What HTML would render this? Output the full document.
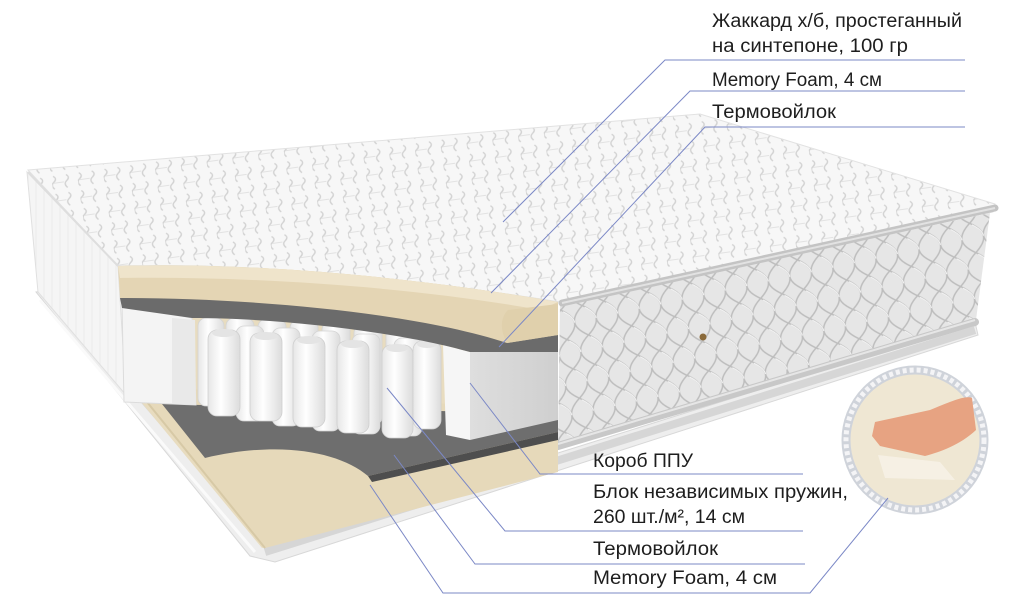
<!DOCTYPE html>
<html><head><meta charset="utf-8"><style>
html,body{margin:0;padding:0;background:#fff;width:1010px;height:615px;overflow:hidden}
svg{display:block}
text{font-family:"Liberation Sans",sans-serif;fill:#1e1e1e}
</style></head><body>
<svg width="1010" height="615" viewBox="0 0 1010 615" xmlns="http://www.w3.org/2000/svg">
<defs>
<pattern id="quilt" width="26" height="18" patternUnits="userSpaceOnUse" patternTransform="rotate(-8)">
<rect width="26" height="18" fill="#f7f7f7"/>
<path d="M2 2 q4 3 0 6 q-4 3 0 7 M15 2 q4 3 0 6 q-4 3 0 7" stroke="#d2d2d2" stroke-width="1.4" fill="none"/>
<path d="M2 9 h10" stroke="#e2e2e2" stroke-width="1" fill="none"/>
</pattern>
<pattern id="diam" width="22" height="30" patternUnits="userSpaceOnUse" patternTransform="rotate(-12)">
<rect width="22" height="30" fill="#e6e6e6"/>
<path d="M0 0 Q11 8 11 15 Q11 22 0 30 M22 0 Q11 8 11 15 Q11 22 22 30" stroke="#bdbdbd" stroke-width="1.5" fill="none"/>
<path d="M2 2 Q11 9 11 15" stroke="#f6f6f6" stroke-width="1" fill="none"/>
</pattern>
<pattern id="side" width="8" height="10" patternUnits="userSpaceOnUse">
<rect width="8" height="10" fill="#f5f5f5"/><path d="M4 0v10" stroke="#ececec"/>
</pattern>
<linearGradient id="gside" x1="0" x2="1"><stop offset="0" stop-color="#dedede"/><stop offset="1" stop-color="#cfcfcf"/></linearGradient>
<linearGradient id="cyl" x1="0" x2="1"><stop offset="0" stop-color="#e6e6e6"/><stop offset=".4" stop-color="#fff"/><stop offset="1" stop-color="#dcdcdc"/></linearGradient>
</defs>

<!-- base board -->
<path d="M36 292 L48 290 L135 395 L265 545 L975 322 L978 335 L275 562 L250 556 Z" fill="#eeeeee" stroke="#d8d8d8"/>
<path d="M40 300 L255 552" stroke="#fafafa" stroke-width="3"/>

<!-- left wall -->
<path d="M27 172 L118 266 L126 395 L38 292 Z" fill="url(#side)" stroke="#e0e0e0"/>

<!-- top surface -->
<path d="M28 170 L700 114 L995 204 L993 212 L560 302 C420 280 260 262 118 266 Z" fill="url(#quilt)" stroke="#e2e2e2"/>
<path d="M28 172 L118 266" stroke="#dedede" stroke-width="2"/>

<!-- right panel -->
<path d="M560 305 L990 213 L976 320 L558 442 Z" fill="url(#diam)"/>
<path d="M562 303 L995 208" stroke="#c4c4c4" stroke-width="7" stroke-linecap="round"/>
<path d="M562 303 L995 208" stroke="#e2e2e2" stroke-width="2"/>
<path d="M558 446 L975 322" stroke="#c8c8c8" stroke-width="8" stroke-linecap="round"/>
<path d="M558 444 L975 320" stroke="#e6e6e6" stroke-width="2"/>
<path d="M265 552 L975 330" stroke="#d6d6d6" stroke-width="8"/>
<circle cx="703" cy="337" r="3.5" fill="#8a6a3a"/>

<!-- cut interior: back fill -->
<path d="M120 266 C260 262 420 278 558 302 L558 470 L262 548 L127 385 Z" fill="#e8dcbf"/>
<!-- bottom beige foam -->
<path d="M126 376 L200 390 L558 410 L558 472 L265 548 Z" fill="#e6d9ba"/>
<path d="M126 376 L265 548" stroke="#d7c9a6" stroke-width="2"/>
<!-- bottom gray felt -->
<path d="M162 404 L558 414 L558 432 L368 476 C340 452 280 440 205 458 Z" fill="#6e6e6e"/>
<path d="M368 476 L558 432 L558 440 L372 482 Z" fill="#4e4e4e"/>
<!-- left box -->
<path d="M122 304 L192 318 L196 405 L124 402 Z" fill="#f4f4f4" stroke="#dcdcdc"/>
<path d="M172 318 L195 320 L196 405 L172 404 Z" fill="#e9e9e9"/>
<!-- springs back rows -->
<g fill="url(#cyl)" stroke="#d4d4d4" stroke-width=".8">
<rect x="198" y="318" width="26" height="88" rx="8"/>
<rect x="226" y="318" width="28" height="92" rx="8"/>
<rect x="258" y="319" width="28" height="95" rx="8"/>
<rect x="290" y="320" width="28" height="98" rx="8"/>
<rect x="322" y="322" width="28" height="100" rx="8"/>
<rect x="354" y="325" width="28" height="100" rx="8"/>
<rect x="386" y="328" width="28" height="100" rx="8"/>
<rect x="412" y="333" width="28" height="95" rx="8"/>
<rect x="236" y="326" width="28" height="95" rx="8"/>
<rect x="272" y="328" width="28" height="98" rx="8"/>
<rect x="312" y="331" width="28" height="100" rx="8"/>
<rect x="352" y="334" width="28" height="100" rx="8"/>
<rect x="394" y="338" width="28" height="98" rx="8"/>
</g>
<!-- springs front row -->
<g fill="url(#cyl)" stroke="#cfcfcf" stroke-width=".8">
<rect x="208" y="330" width="32" height="86" rx="9"/>
<rect x="250" y="333" width="32" height="88" rx="9"/>
<rect x="293" y="337" width="32" height="90" rx="9"/>
<rect x="337" y="341" width="32" height="92" rx="9"/>
<rect x="382" y="345" width="31" height="93" rx="9"/>
<rect x="413" y="341" width="28" height="88" rx="9"/>
</g>
<g fill="#e4e4e4">
<ellipse cx="224" cy="333" rx="12" ry="4"/><ellipse cx="266" cy="336" rx="12" ry="4"/>
<ellipse cx="309" cy="340" rx="12" ry="4"/><ellipse cx="353" cy="344" rx="12" ry="4"/>
<ellipse cx="397" cy="348" rx="11" ry="4"/><ellipse cx="427" cy="344" rx="10" ry="4"/>
</g>
<!-- right box -->
<path d="M443 345 L470 352 L470 440 L446 435 Z" fill="#f6f6f6"/>
<path d="M470 352 L558 348 L558 420 L470 440 Z" fill="url(#gside)"/>
<!-- upper gray felt -->
<path d="M120 298 C260 296 420 312 507 342 L558 333 L558 352 L470 352 C400 332 280 318 192 318 L122 308 Z" fill="#6b6b6b"/>
<!-- top memory foam -->
<path d="M118 266 C260 262 420 278 558 302 L558 335 L507 343 C420 314 260 298 120 298 Z" fill="#e4d5b4"/>
<path d="M118 266 C260 262 420 278 558 302 L540 310 C420 288 260 276 120 278 Z" fill="#efe4cb"/>
<path d="M507 343 C500 330 500 318 508 310 L558 304 L558 335 Z" fill="#e0d0ac"/>

<!-- inset circle -->
<ellipse cx="915" cy="440" rx="69" ry="70" fill="#efe7d3"/>
<ellipse cx="915" cy="440" rx="69" ry="70" fill="none" stroke="#cfd3da" stroke-width="9"/>
<ellipse cx="915" cy="440" rx="69" ry="70" fill="none" stroke="#f4f4f6" stroke-width="5" stroke-dasharray="4 3"/>
<path d="M875 422 L930 410 C950 402 965 395 972 398 L976 430 C960 445 940 452 925 456 L880 446 L872 436 Z" fill="#e7a382"/>
<path d="M878 455 L940 462 L955 480 L885 478 Z" fill="#f8f3e8" opacity=".8"/>

<!-- leader lines -->
<g stroke="#7b88c6" stroke-width="1" fill="none">
<polyline points="503,222 665,60 965,60"/>
<polyline points="491,293 690,91 965,91"/>
<polyline points="499,347 705,127 965,127"/>
<polyline points="470,383 540,474 803,474"/>
<polyline points="387,388 505,531 803,531"/>
<polyline points="394,455 475,564 805,564"/>
<polyline points="370,485 443,593 810,593 888,498"/>
</g>

<!-- labels -->
<text x="712" y="27" font-size="19" textLength="250" lengthAdjust="spacingAndGlyphs">Жаккард х/б, простеганный</text>
<text x="712" y="52" font-size="19" textLength="196" lengthAdjust="spacingAndGlyphs">на синтепоне, 100 гр</text>
<text x="712" y="86" font-size="19" textLength="170" lengthAdjust="spacingAndGlyphs">Memory Foam, 4 см</text>
<text x="712" y="118" font-size="19" textLength="124" lengthAdjust="spacingAndGlyphs">Термовойлок</text>
<text x="593" y="467" font-size="19" textLength="100" lengthAdjust="spacingAndGlyphs">Короб ППУ</text>
<text x="593" y="498" font-size="19" textLength="255" lengthAdjust="spacingAndGlyphs">Блок независимых пружин,</text>
<text x="593" y="523" font-size="19" textLength="152" lengthAdjust="spacingAndGlyphs">260 шт./м², 14 см</text>
<text x="593" y="555" font-size="19" textLength="125" lengthAdjust="spacingAndGlyphs">Термовойлок</text>
<text x="593" y="584" font-size="19" textLength="184" lengthAdjust="spacingAndGlyphs">Memory Foam, 4 см</text>
</svg>
</body></html>
